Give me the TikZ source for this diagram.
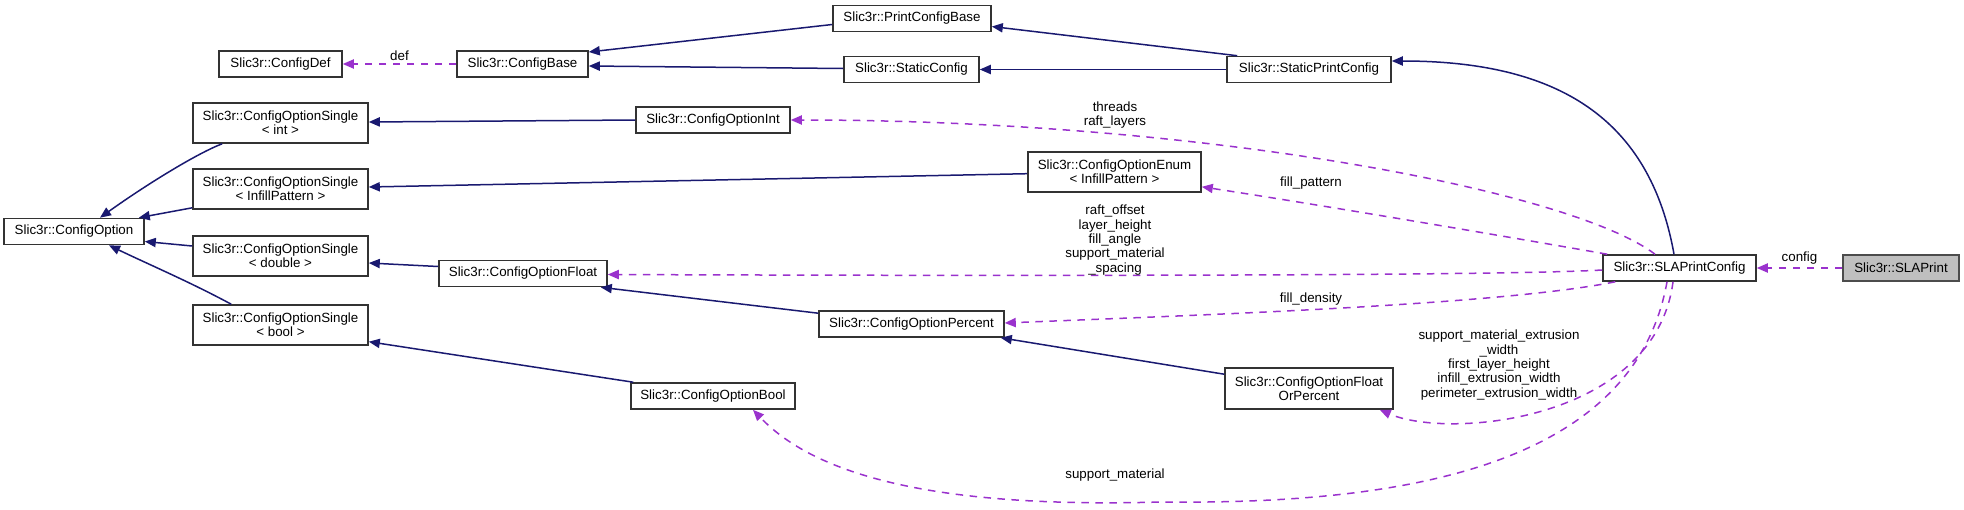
\documentclass[tikz,border=0pt]{standalone}
\usepackage{fontspec}
\setmainfont{Liberation Sans}
\usetikzlibrary{arrows.meta,calc}
\definecolor{inh}{HTML}{191970}
\definecolor{use}{HTML}{9A32CD}
\begin{document}
\begin{tikzpicture}[x=0.5pt,y=-0.5pt,
  box/.style={draw=black!80, line width=0.8pt, fill=white, inner sep=0pt, align=center,
    font=\fontsize{6.67}{7.2}\selectfont, minimum height=13pt},
  box2/.style={box, minimum height=20pt},
  inhedge/.style={draw=inh, line width=0.75pt, -{Triangle[length=5.5pt,width=4.6pt]}},
  useedge/.style={draw=use, line width=0.75pt, dash pattern=on 3.75pt off 3.25pt, -{Triangle[length=5.5pt,width=4.6pt]}},
  lbl/.style={inner sep=0pt, align=center, font=\fontsize{6.67}{7.2}\selectfont}]
\useasboundingbox (0,0) rectangle (1964,509);
% nodes
\node[box, minimum width=61.5pt] (cd) at (280.5,64) {Slic3r::ConfigDef};
\node[box, minimum width=65.5pt] (cb) at (522.5,64) {Slic3r::ConfigBase};
\node[box, minimum width=79pt] (pcb) at (912,18.5) {Slic3r::PrintConfigBase};
\node[box, minimum width=67.5pt] (sc) at (911.5,69.5) {Slic3r::StaticConfig};
\node[box, minimum width=82pt] (spc) at (1309,69.5) {Slic3r::StaticPrintConfig};
\node[box2, minimum width=87.5pt] (csi) at (280.5,123) {Slic3r::ConfigOptionSingle\\{}< int >};
\node[box2, minimum width=87.5pt] (csip) at (280.5,189) {Slic3r::ConfigOptionSingle\\{}< InfillPattern >};
\node[box, minimum width=70pt] (co) at (74,231.5) {Slic3r::ConfigOption};
\node[box2, minimum width=87.5pt] (csd) at (280.5,256) {Slic3r::ConfigOptionSingle\\{}< double >};
\node[box2, minimum width=87.5pt] (csb) at (280.5,325) {Slic3r::ConfigOptionSingle\\{}< bool >};
\node[box, minimum width=77pt] (coi) at (713,120) {Slic3r::ConfigOptionInt};
\node[box2, minimum width=86.5pt] (coe) at (1114.5,172) {Slic3r::ConfigOptionEnum\\{}< InfillPattern >};
\node[box, minimum width=84pt] (cof) at (523,273.5) {Slic3r::ConfigOptionFloat};
\node[box, minimum width=92.5pt] (cop) at (911.5,324) {Slic3r::ConfigOptionPercent};
\node[box2, minimum width=84pt, minimum height=20.5pt] (cofp) at (1309,388.5) {Slic3r::ConfigOptionFloat\\OrPercent};
\node[box, minimum width=82pt] (cob) at (713,396) {Slic3r::ConfigOptionBool};
\node[box, minimum width=76.5pt] (slapc) at (1679.5,268) {Slic3r::SLAPrintConfig};
\node[box, minimum width=58pt, fill=black!25, draw=black!70] (slap) at (1901,268) {Slic3r::SLAPrint};
% inheritance edges
\draw[inhedge] ($(pcb.west)+(0,6)$) -- ($(cb.east)+(0,-12)$);
\draw[inhedge] ($(sc.west)+(0,-1)$) -- ($(cb.east)+(0,2)$);
\draw[inhedge] ($(spc.north west)+(11,0)$) -- ($(pcb.east)+(0,8)$);
\draw[inhedge] (spc.west) -- (sc.east);
\draw[inhedge] ($(slapc.north)+(-5.5,0)$) .. controls (1650,120) and (1560,61) .. ($(spc.east)+(0,-8.5)$);
\draw[inhedge] (coi.west) -- ($(csi.east)+(0,-1)$);
\draw[inhedge] ($(coe.west)+(0,1.7)$) -- ($(csip.east)+(0,-2)$);
\draw[inhedge] ($(cof.west)+(0,-7)$) -- ($(csd.east)+(0,7)$);
\draw[inhedge] ($(cob.north west)+(3,0)$) -- ($(csb.east)+(0,16.7)$);
\draw[inhedge] ($(cop.north west)+(0,3)$) -- ($(cof.south east)+(-7,0)$);
\draw[inhedge] ($(cofp.north west)+(0,7)$) -- ($(cop.south east)+(-4,0)$);
\draw[inhedge] ($(csi.south west)+(30,0)$) .. controls (200,152) and (150,182) .. ($(co.north)+(26,0)$);
\draw[inhedge] ($(csip.south west)+(0,-2)$) -- ($(co.north east)+(-6,0)$);
\draw[inhedge] ($(csd.west)+(0,-10)$) -- ($(co.east)+(0,10)$);
\draw[inhedge] ($(csb.north west)+(39,0)$) .. controls (190,282) and (150,265) .. ($(co.south)+(35,0)$);
% usage edges
\draw[useedge] (cb.west) -- node[lbl, above=1.5pt] {def} (cd.east);
\draw[useedge] ($(slapc.north)+(-24.5,0)$) .. controls (1570,190) and (1200,120) .. (coi.east);
\node[lbl] (l1) at (1115,115) {threads\\raft\_layers};
\draw[useedge] ($(slapc.north west)+(5,0)$) .. controls (1480,232) and (1320,205) .. ($(coe.south east)+(0,-6)$);
\node[lbl] (l2) at (1311,183) {fill\_pattern};
\draw[useedge] ($(slapc.west)+(0,2)$) .. controls (1500,276) and (1000,276) .. ($(cof.east)+(0,1)$);
\node[lbl] (l3) at (1115,240) {raft\_offset\\layer\_height\\fill\_angle\\support\_material\\\_spacing};
\draw[useedge] ($(slapc.south west)+(13,0)$) .. controls (1500,305) and (1200,315) .. ($(cop.east)+(0,-1)$);
\node[lbl] (l4) at (1311,298.7) {fill\_density};
\draw[useedge] ($(slapc.south)+(-6.5,0)$) .. controls (1655,420) and (1450,440) .. ($(cofp.south east)+(-14,0)$);
\node[lbl] (l5) at (1499,365) {support\_material\_extrusion\\\_width\\first\_layer\_height\\infill\_extrusion\_width\\perimeter\_extrusion\_width};
\draw[useedge] ($(slapc.south)+(-12.5,0)$) .. controls (1635,460) and (1420,505) .. (1161,502) .. controls (950,508) and (820,480) .. ($(cob.south)+(40,0)$);
\node[lbl] (l6) at (1115,475) {support\_material};
\draw[useedge] (slap.west) -- node[lbl, above=1.5pt] {config} (slapc.east);
\end{tikzpicture}
\end{document}
